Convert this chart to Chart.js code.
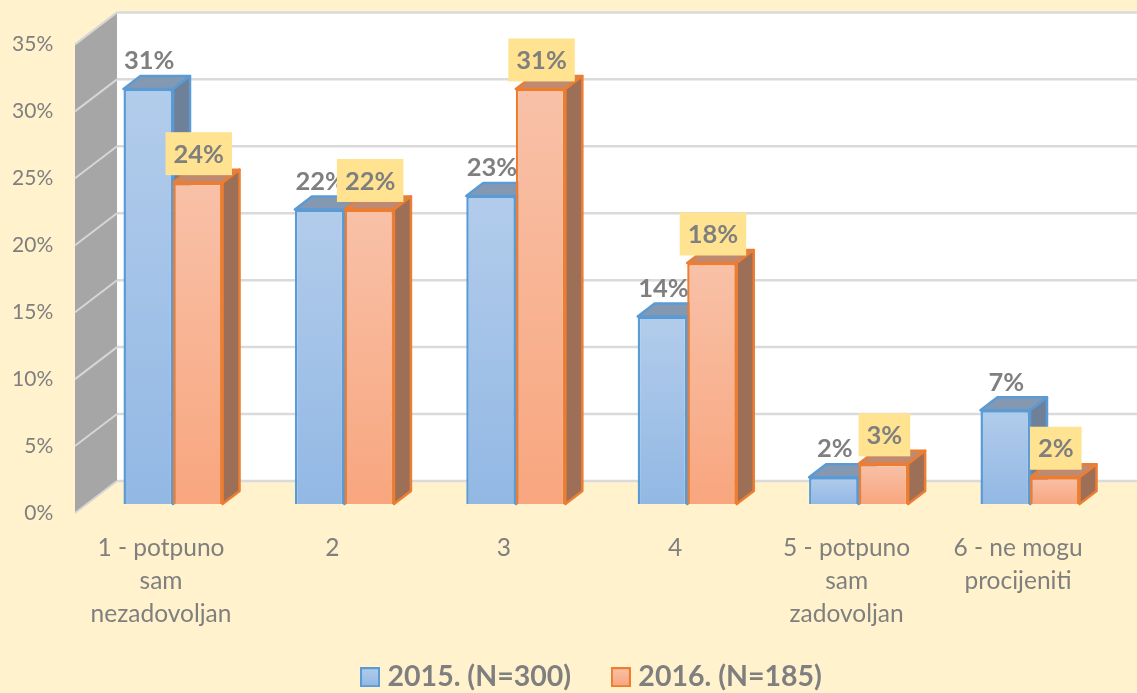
<!DOCTYPE html>
<html><head><meta charset="utf-8">
<style>html,body{margin:0;padding:0;background:#fff2cc;overflow:hidden}canvas{display:block}</style>
<script src="https://cdn.jsdelivr.net/npm/chart.js@4"></script>
</head><body><canvas id="c" width="1137" height="693"></canvas>
<script>
const categories = [["1 - potpuno","sam","nezadovoljan"],"2","3","4",["5 - potpuno","sam","zadovoljan"],["6 - ne mogu","procijeniti"]];
const series2015 = [31,22,23,14,2,7];
const series2016 = [24,22,31,18,3,2];
const name2015 = "2015. (N=300)";
const name2016 = "2016. (N=185)";
const yTicks = [0,5,10,15,20,25,30,35];

const FONT = "Lato, Carlito, sans-serif";
const GREY = "#7f7f7f";
const WALL_DX = 42, WALL_DY = 32, BAR_DX = 17, BAR_DY = 13;
const FRONT_LIFT = 0.672;
const AXIS_BOTTOM = 513;

const palette = [
  {top:"#b2cceb",bot:"#92b8e4",line:"#5b9bd5",roof:"#8498b1",side:"#6f8198"},
  {top:"#f8c1a8",bot:"#f8a67e",line:"#ed7d31",roof:"#bf8a6f",side:"#9e6f57"}
];

function frontFill(i){
  return function(ctx){
    const chart = ctx.chart, s = chart.scales.yBars;
    if (ctx.raw === undefined) return palette[i].bot;
    const g = chart.ctx.createLinearGradient(0,s.getPixelForValue(ctx.raw),0,s.getPixelForValue(0));
    g.addColorStop(0,palette[i].top); g.addColorStop(1,palette[i].bot);
    return g;
  };
}

function legendSwatch(i){
  const cv = document.createElement("canvas"); cv.width = 20; cv.height = 20;
  const c = cv.getContext("2d");
  const g = c.createLinearGradient(0,1,0,19);
  g.addColorStop(0,palette[i].top); g.addColorStop(1,palette[i].bot);
  c.fillStyle = g; c.fillRect(1,1,18,18);
  c.strokeStyle = palette[i].line; c.lineWidth = 2; c.strokeRect(1,1,18,18);
  return cv;
}

const scene = {
  id:"scene",
  afterLayout(chart){
    const l = chart.legend;
    l.left += 36.5; l.right += 36.5; l.top += 8.5; l.bottom += 8.5;
    chart.scales.x.bottom = chart.height;
  },
  beforeDraw(chart){
    const c = chart.ctx, y = chart.scales.y;
    c.save();
    c.fillStyle = "#fff2cc"; c.fillRect(0,0,chart.width,chart.height);
    const x0 = 75, x1 = x0 + WALL_DX, yb = y.getPixelForValue(0), yt = y.getPixelForValue(35);
    c.fillStyle = "#ffffff";
    c.fillRect(x1,yt-WALL_DY,chart.width-x1,yb-yt);
    c.fillStyle = "#a6a6a6";
    c.beginPath(); c.moveTo(x0,yt); c.lineTo(x1,yt-WALL_DY); c.lineTo(x1,yb-WALL_DY); c.lineTo(x0,yb); c.closePath(); c.fill();
    yTicks.forEach(t=>{
      const p = y.getPixelForValue(t);
      c.strokeStyle = "#dadada"; c.lineWidth = 2.5;
      c.beginPath(); c.moveTo(x1,p-WALL_DY); c.lineTo(chart.width,p-WALL_DY); c.stroke();
      c.strokeStyle = "#d6d6d6"; c.lineWidth = 2;
      c.beginPath(); c.moveTo(x0,p); c.lineTo(x1,p-WALL_DY); c.stroke();
    });
    c.restore();
  },
  beforeDatasetsDraw(chart){
    const c = chart.ctx;
    c.save();
    c.lineJoin = "round";
    chart.data.datasets.forEach((d,i)=>{
      const pal = palette[i];
      chart.getDatasetMeta(i).data.forEach(b=>{
        const l = b.x-b.width/2, r = b.x+b.width/2, t = b.y, bs = b.base;
        c.strokeStyle = pal.line; c.lineWidth = 2.5;
        c.fillStyle = pal.roof;
        c.beginPath(); c.moveTo(l,t); c.lineTo(l+BAR_DX,t-BAR_DY); c.lineTo(r+BAR_DX,t-BAR_DY); c.lineTo(r,t); c.closePath(); c.fill(); c.stroke();
        c.fillStyle = pal.side;
        c.beginPath(); c.moveTo(r,t); c.lineTo(r+BAR_DX,t-BAR_DY); c.lineTo(r+BAR_DX,bs-BAR_DY); c.lineTo(r,bs); c.closePath(); c.fill(); c.stroke();
      });
    });
    c.restore();
  },
  afterDatasetsDraw(chart){
    const c = chart.ctx;
    c.save();
    c.font = "bold 25.5px "+FONT; c.textAlign = "center"; c.textBaseline = "middle";
    chart.data.datasets.forEach((d,i)=>{
      chart.getDatasetMeta(i).data.forEach((b,k)=>{
        const txt = d.data[k]+"%";
        const cx = b.x+1, cy = b.y-29;
        if (i===1){
          const w = c.measureText(txt).width + 16;
          c.fillStyle = "#ffe391"; c.fillRect(cx-w/2,cy-21.5,w,43);
        }
        c.fillStyle = GREY;
        c.fillText(txt,cx,cy+1);
      });
    });
    c.restore();
  }
};

new Chart(document.getElementById("c"),{
  type:"bar",
  data:{labels:categories,datasets:[
    {label:name2015,data:series2015,yAxisID:"yBars",backgroundColor:frontFill(0),borderColor:palette[0].line,borderWidth:2.5},
    {label:name2016,data:series2016,yAxisID:"yBars",backgroundColor:frontFill(1),borderColor:palette[1].line,borderWidth:2.5}
  ]},
  options:{
    responsive:false,animation:false,
    layout:{padding:{top:44.4,right:21.3,left:0,bottom:0}},
    datasets:{bar:{categoryPercentage:0.578,barPercentage:1}},
    plugins:{
      tooltip:{enabled:false},
      legend:{
        position:"bottom",
        labels:{
          usePointStyle:true,pointStyleWidth:6.5,boxHeight:18,padding:46.5,color:GREY,font:{family:FONT,size:28.5,weight:"bold"},
          generateLabels(chart){
            return chart.data.datasets.map((d,i)=>({
              text:d.label,fontColor:GREY,pointStyle:legendSwatch(i),fillStyle:palette[i].top,strokeStyle:palette[i].line,lineWidth:2,datasetIndex:i,hidden:false
            }));
          }
        }
      }
    },
    scales:{
      x:{
        grid:{display:false,drawTicks:false},border:{display:false},
        afterFit(s){ s.height = s.chart.height - AXIS_BOTTOM - (s.chart.legend ? s.chart.legend.height : 0); s.paddingLeft = 0; s.paddingRight = 0; },
        ticks:{autoSkip:false,maxRotation:0,minRotation:0,labelOffset:-12,padding:18.5,color:GREY,font:{family:FONT,size:24.5,lineHeight:1.347}}
      },
      y:{
        position:"left",min:0,max:35,
        grid:{display:false,drawTicks:false},border:{display:false},
        afterFit(s){ s.width = 87.3; s.paddingTop = 0; s.paddingBottom = 0; },
        afterBuildTicks(s){ s.ticks = yTicks.map(v=>({value:v})); },
        ticks:{padding:34,color:GREY,font:{family:FONT,size:21},callback:v=>v+"%"}
      },
      yBars:{display:false,min:-FRONT_LIFT,max:35-FRONT_LIFT}
    }
  },
  plugins:[scene]
});
</script></body></html>
